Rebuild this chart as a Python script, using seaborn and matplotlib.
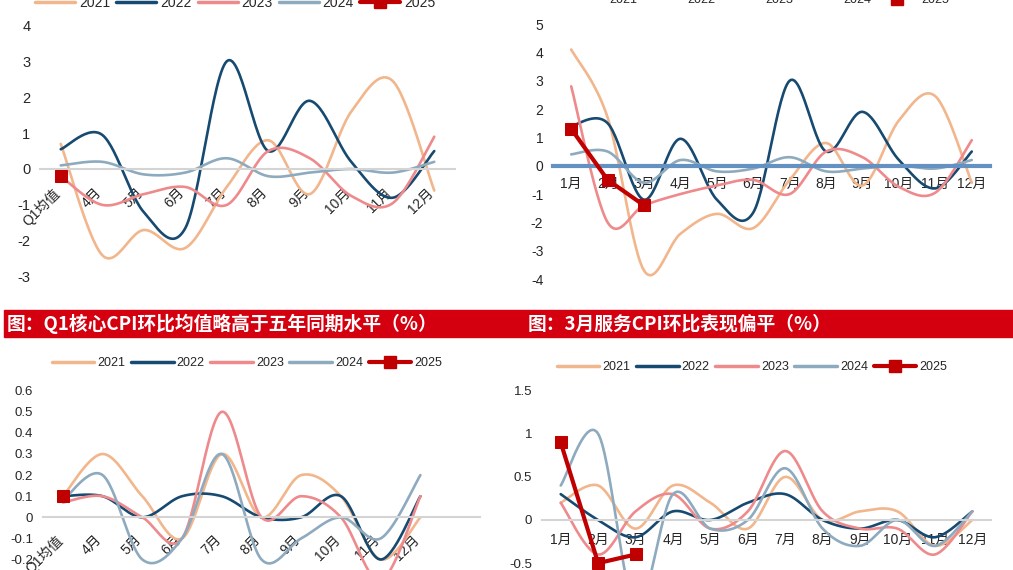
import numpy as np
import matplotlib
matplotlib.use("Agg")
import matplotlib.pyplot as plt
import seaborn as sns
from matplotlib.lines import Line2D
from matplotlib.patches import Rectangle
from matplotlib.transforms import ScaledTranslation

sns.set_style("white")
plt.rcParams["font.family"] = ["Liberation Sans", "Noto Sans CJK SC"]
plt.rcParams["axes.unicode_minus"] = False

# --- DATA ---
YEARS = ["2021", "2022", "2023", "2024", "2025"]
COLORS = ["#f2b68c", "#174a70", "#ee8a8c", "#8eaabf", "#c00000"]

months = [f"{i}月" for i in range(1, 13)]
q_cats = ["Q1均值"] + [f"{i}月" for i in range(4, 13)]

# top left: Q1 average + Apr..Dec
tl_2021 = [0.7, -2.4, -1.7, -2.2, -0.5, 0.8, -0.7, 1.6, 2.45, -0.6]
tl_2022 = [0.55, 0.95, -1.2, -1.65, 3.0, 0.5, 1.9, 0.2, -0.8, 0.5]
tl_2023 = [-0.2, -1.0, -0.7, -0.5, -1.0, 0.5, 0.3, -0.75, -0.95, 0.9]
tl_2024 = [0.1, 0.2, -0.15, -0.1, 0.3, -0.2, -0.1, 0.0, -0.1, 0.2]
tl_2025 = [-0.2]

# top right: monthly
tr_2021 = [4.1, 1.7, -3.7, -2.4, -1.7, -2.2, -0.5, 0.8, -0.7, 1.6, 2.45, -0.6]
tr_2022 = [1.4, 1.5, -1.2, 0.95, -1.2, -1.65, 3.0, 0.5, 1.9, 0.2, -0.8, 0.5]
tr_2023 = [2.8, -2.0, -1.4, -1.0, -0.7, -0.5, -1.0, 0.5, 0.3, -0.75, -0.95, 0.9]
tr_2024 = [0.4, 0.5, -0.6, 0.2, -0.2, -0.1, 0.3, -0.2, -0.1, 0.0, -0.1, 0.2]
tr_2025 = [1.3, -0.5, -1.4]

# bottom left: core CPI, Q1 average + Apr..Dec
bl_2021 = [0.1, 0.3, 0.1, -0.1, 0.3, 0.0, 0.2, 0.1, -0.2, 0.0]
bl_2022 = [0.1, 0.1, 0.0, 0.1, 0.1, 0.0, 0.0, 0.1, -0.2, 0.1]
bl_2023 = [0.07, 0.1, 0.0, -0.1, 0.5, 0.0, 0.1, 0.0, -0.3, 0.1]
bl_2024 = [0.08, 0.2, -0.2, -0.1, 0.3, -0.2, -0.1, 0.0, -0.1, 0.2]
bl_2025 = [0.1]

# bottom right: service CPI, monthly
br_2021 = [0.2, 0.4, -0.1, 0.4, 0.2, -0.1, 0.5, 0.0, 0.1, 0.1, -0.3, 0.0]
br_2022 = [0.3, 0.0, -0.2, 0.1, 0.0, 0.2, 0.3, 0.0, -0.1, 0.0, -0.2, 0.1]
br_2023 = [0.2, -0.4, 0.1, 0.3, -0.1, 0.1, 0.8, 0.1, -0.1, -0.1, -0.4, 0.1]
br_2024 = [0.4, 1.0, -1.0, 0.3, -0.1, 0.0, 0.6, -0.1, -0.3, 0.0, -0.3, 0.1]
br_2025 = [0.9, -0.5, -0.4]

TITLE_L = "图：Q1核心CPI环比均值略高于五年同期水平（%）"
TITLE_R = "图：3月服务CPI环比表现偏平（%）"

W, H = 1013, 570
fig = plt.figure(figsize=(W / 100, H / 100), dpi=100)


def px_axes(x0, x1, ytop, ybot):
    return fig.add_axes([x0 / W, 1 - ybot / H, (x1 - x0) / W, (ybot - ytop) / H])


def smooth(vals, n=30):
    # Excel style smoothed line (Catmull-Rom as cubic Bezier)
    y = np.asarray(vals, float)
    x = np.arange(len(y), dtype=float)
    if len(y) < 3:
        return x, y
    pts = np.column_stack([np.r_[x[0], x, x[-1]], np.r_[y[0], y, y[-1]]])
    t = np.linspace(0, 1, n)[:, None]
    out = []
    for i in range(len(y) - 1):
        p0, p1, p2, p3 = pts[i], pts[i + 1], pts[i + 2], pts[i + 3]
        c1 = p1 + (p2 - p0) / 6
        c2 = p2 - (p3 - p1) / 6
        seg = (1 - t) ** 3 * p1 + 3 * (1 - t) ** 2 * t * c1 + 3 * (1 - t) * t ** 2 * c2 + t ** 3 * p2
        out.append(seg if i == 0 else seg[1:])
    out = np.vstack(out)
    return out[:, 0], out[:, 1]


def draw_panel(ax, cats, series, ylim, yticks, spine_color, spine_lw, rotate, xpad, yfs):
    n = len(cats)
    for vals, color, year in zip(series, COLORS, YEARS):
        if year == "2025":
            xs = np.arange(len(vals))
            sns.lineplot(x=xs, y=vals, ax=ax, color=color, lw=3, marker="s",
                         markersize=8, markeredgecolor=color, sort=False,
                         estimator=None, zorder=5)
        else:
            xs, ys = smooth(vals)
            sns.lineplot(x=xs, y=ys, ax=ax, color=color, lw=1.9, sort=False,
                         estimator=None)
    ax.set_xlim(-0.5, n - 0.5)
    ax.set_ylim(*ylim)
    ax.set_yticks(yticks)
    ax.set_yticklabels([f"{round(v, 2):g}" for v in yticks], fontsize=yfs)
    ax.set_xticks(range(n))
    ax.set_xticklabels(cats, fontsize=10.5)
    ax.set_xticks(np.arange(-0.5, n, 1), minor=True)
    ax.tick_params(axis="x", which="major", length=0, pad=xpad)
    ax.tick_params(axis="x", which="minor", length=5, width=1.3,
                   color=spine_color, direction="out")
    ax.tick_params(axis="y", length=0, pad=7)
    for s in ["top", "right", "left"]:
        ax.spines[s].set_visible(False)
    ax.spines["bottom"].set_position(("data", 0))
    ax.spines["bottom"].set_color(spine_color)
    ax.spines["bottom"].set_linewidth(spine_lw)
    ax.set_xlabel("")
    ax.set_ylabel("")
    ax.patch.set_alpha(0)
    if rotate:
        off = ScaledTranslation(-8 / 100, 0, fig.dpi_scale_trans)
        for lbl in ax.get_xticklabels():
            lbl.set_rotation(45)
            lbl.set_ha("right")
            lbl.set_va("top")
            lbl.set_rotation_mode("anchor")
            lbl.set_transform(lbl.get_transform() + off)


def add_legend(cx, cy, fs, hl):
    handles = []
    for color, year in zip(COLORS, YEARS):
        if year == "2025":
            handles.append(Line2D([], [], color=color, lw=3, marker="s", markersize=8))
        else:
            handles.append(Line2D([], [], color=color, lw=2.5))
    fig.legend(handles, YEARS, loc="center", bbox_to_anchor=(cx / W, 1 - cy / H),
               ncol=5, frameon=False, fontsize=fs, handlelength=hl,
               handletextpad=0.25, columnspacing=0.45)


gray = "#d4d4d4"

ax1 = px_axes(40, 455, 169 - 5 * 35.9, 169 + 4 * 35.9)
draw_panel(ax1, q_cats, [tl_2021, tl_2022, tl_2023, tl_2024, tl_2025],
           (-4, 5), list(range(-3, 5)), gray, 1.5, True, 12, 10.5)

ax2 = px_axes(553, 990, 165.7 - 5 * 28.34, 165.7 + 5 * 28.34)
draw_panel(ax2, months, [tr_2021, tr_2022, tr_2023, tr_2024, tr_2025],
           (-5, 5), list(range(-4, 6)), "#6391c2", 3.0, False, 8, 10)

ax3 = px_axes(43, 480, 517.3 - 0.6 * 211, 517.3 + 0.4 * 211)
draw_panel(ax3, q_cats + [""], [bl_2021, bl_2022, bl_2023, bl_2024, bl_2025],
           (-0.4, 0.6), [round(v, 1) for v in np.arange(-0.3, 0.61, 0.1)],
           gray, 1.5, True, 11, 9.5)

ax4 = px_axes(542, 991, 520 - 1.5 * 86.2, 520 + 1.2 * 86.2)
draw_panel(ax4, months, [br_2021, br_2022, br_2023, br_2024, br_2025],
           (-1.2, 1.5), [-1.0, -0.5, 0, 0.5, 1.0, 1.5], gray, 1.5, False, 9, 9.5)

add_legend(235, 3, 10, 2.9)
add_legend(757, 0, 9, 3.3)
add_legend(247, 363, 9, 3.4)
add_legend(752, 367, 9, 3.4)

# red title bar across the middle
bar = Rectangle((4 / W, 1 - 337 / H), (W - 4) / W, 27 / H, transform=fig.transFigure,
                color="#d4000f", zorder=10)
fig.add_artist(bar)
fig.text(7 / W, 1 - 324 / H, TITLE_L, color="white", fontsize=13.5, fontweight="bold",
         va="center", ha="left", family=["Noto Sans CJK SC"], zorder=11)
fig.text(528 / W, 1 - 324 / H, TITLE_R, color="white", fontsize=13.5, fontweight="bold",
         va="center", ha="left", family=["Noto Sans CJK SC"], zorder=11)

fig.savefig("out.png", dpi=100)
